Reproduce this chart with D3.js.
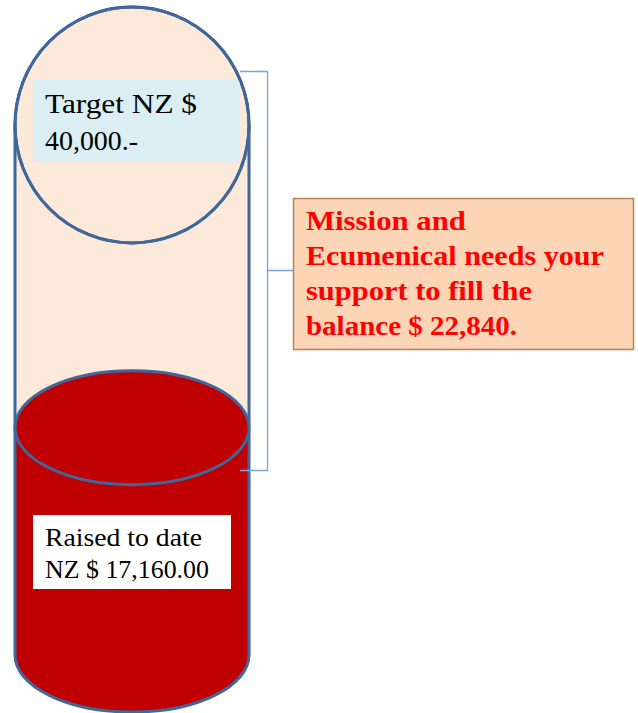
<!DOCTYPE html>
<html><head><meta charset="utf-8">
<script src="https://cdn.jsdelivr.net/npm/d3@7"></script>
<style>html,body{margin:0;padding:0;background:#fff;}svg{display:block;}</style>
</head><body>
<script>
// Data
const target = 40000;
const raised = 17160;
const balance = target - raised;
const targetLines = ["Target NZ $", "40,000.-"];
const raisedLines = ["Raised to date", "NZ $ 17,160.00"];
const calloutLines = ["Mission and", "Ecumenical needs your", "support to fill the", "balance $ 22,840."];

const W = 638, H = 713;
const svg = d3.select("body").append("svg").attr("width", W).attr("height", H);

const cx = 132, rx = 117;
const y = d3.scaleLinear().domain([0, target]).range([655, 125]);
const topRy = 118, ry = 57;
const stroke = "#40679a", sw = 3;
const peach = "#fde9d9", red = "#c00000";
const font = "'Liberation Serif', 'Times New Roman', serif";

const yTop = y(target), yLvl = y(raised), yBot = y(0);

// peach body
svg.append("rect").attr("x", cx - rx).attr("y", yTop).attr("width", 2 * rx).attr("height", yBot - yTop).attr("fill", peach);
// red body
svg.append("path")
  .attr("d", `M${cx - rx},${yLvl} L${cx - rx},${yBot} A${rx},${ry} 0 0 0 ${cx + rx},${yBot} L${cx + rx},${yLvl} Z`)
  .attr("fill", red);
// outline walls + bottom arc
svg.append("path")
  .attr("d", `M${cx - rx},${yTop} L${cx - rx},${yBot} A${rx},${ry} 0 0 0 ${cx + rx},${yBot} L${cx + rx},${yTop}`)
  .attr("fill", "none").attr("stroke", stroke).attr("stroke-width", sw);
// red top ellipse
svg.append("ellipse").attr("cx", cx).attr("cy", yLvl).attr("rx", rx).attr("ry", ry)
  .attr("fill", red).attr("stroke", stroke).attr("stroke-width", sw);
// top ellipse
svg.append("ellipse").attr("cx", cx).attr("cy", yTop).attr("rx", rx).attr("ry", topRy)
  .attr("fill", peach).attr("stroke", stroke).attr("stroke-width", sw);

// target box
svg.append("rect").attr("x", 33).attr("y", 80).attr("width", 207).attr("height", 82).attr("fill", "#daeef3");
const tWidths = [152, 93];
targetLines.forEach((t, i) => {
  svg.append("text").attr("x", 45).attr("y", 113 + i * 37).text(t)
    .attr("font-family", font).attr("font-size", 28).attr("fill", "#000")
    .attr("textLength", tWidths[i]).attr("lengthAdjust", "spacingAndGlyphs");
});
// redraw top outline over box
svg.append("ellipse").attr("cx", cx).attr("cy", yTop).attr("rx", rx).attr("ry", topRy)
  .attr("fill", "none").attr("stroke", stroke).attr("stroke-width", sw);

// raised box
svg.append("rect").attr("x", 33).attr("y", 515).attr("width", 198).attr("height", 74).attr("fill", "#fff");
const rWidths = [157, 164];
raisedLines.forEach((t, i) => {
  svg.append("text").attr("x", 45).attr("y", 546 + i * 32).text(t)
    .attr("font-family", font).attr("font-size", 24.5).attr("fill", "#000")
    .attr("textLength", rWidths[i]).attr("lengthAdjust", "spacingAndGlyphs");
});

// bracket
const bc = "#7aa3d8";
svg.append("path")
  .attr("d", `M240,71.5 H267.5 V470.5 H240 M267.5,270.5 H293`)
  .attr("fill", "none").attr("stroke", bc).attr("stroke-width", 1.3);

// callout
svg.append("rect").attr("x", 293.5).attr("y", 198.5).attr("width", 340).attr("height", 151)
  .attr("fill", "#fbd5b5").attr("stroke", "#b9825a").attr("stroke-width", 1.5);
const cWidths = [160, 298, 226, 211];
calloutLines.forEach((t, i) => {
  svg.append("text").attr("x", 306).attr("y", 230 + i * 35).text(t)
    .attr("font-family", font).attr("font-size", 27).attr("font-weight", "bold").attr("fill", "#ff0000")
    .attr("textLength", cWidths[i]).attr("lengthAdjust", "spacingAndGlyphs");
});
</script>
</body></html>
